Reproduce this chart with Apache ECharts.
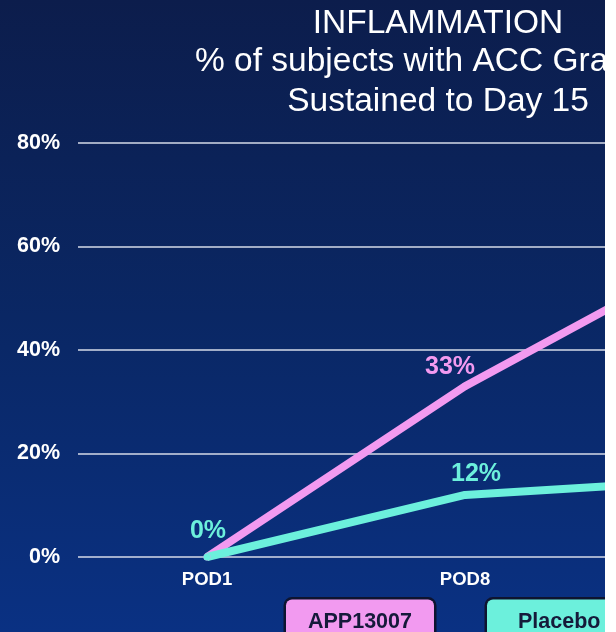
<!DOCTYPE html>
<html>
<head>
<meta charset="utf-8">
<script src="https://cdn.jsdelivr.net/npm/echarts@6/dist/echarts.min.js"></script>
<style>
html, body { margin: 0; padding: 0; background: #ffffff; }
#main { width: 616px; height: 632px; }
</style>
</head>
<body>
<div id="main"></div>
<script>
// data (third point is off the right edge)
var days = ['POD1', 'POD8', 'POD15'];
var app13007 = [0, 33, 60];
var placebo = [0, 12, 15];
var app13007Shown = [false, true, true];
var placeboShown = [true, true, true];
var titleLines = ['INFLAMMATION', '% of subjects with ACC Grade 0', 'Sustained to Day 15'];

var pink = '#f29af0';
var teal = '#6cf0dc';
var font = '"Liberation Sans", Arial';

// x is the day index so the slide can run past the right edge of the window
function makeData(values, shown, offsets, color) {
    var out = [];
    for (var i = 0; i < values.length; i++) {
        out.push({
            value: [i, values[i]],
            label: {
                show: shown[i],
                color: color,
                offset: offsets[i]
            }
        });
    }
    return out;
}

// legend boxes are fixed-width buttons under the axis
function legendBox(name, color, left, padX) {
    return {
        left: left, top: 597, padding: 0, icon: 'none', itemWidth: 0, itemHeight: 0, selectedMode: false,
        data: [{ name: name }],
        textStyle: {
            color: '#151a3a', fontWeight: 'bold', fontSize: 21.5, fontFamily: font,
            backgroundColor: color,
            padding: [9, padX, 15, padX], borderColor: '#0e1430', borderWidth: 2.5, borderRadius: 6
        }
    };
}

var chart = echarts.init(document.getElementById('main'));
var option = {
    backgroundColor: {
        type: 'linear', x: 0, y: 0, x2: 0, y2: 1,
        colorStops: [
            { offset: 0, color: '#0c1d4c' },
            { offset: 0.5, color: '#0a2764' },
            { offset: 1, color: '#0a3183' }
        ]
    },
    animation: false,
    graphic: [
        { type: 'text', x: 438, y: 23.5, style: { text: titleLines[0], fill: '#ffffff', font: '33.5px ' + font, textAlign: 'center', textVerticalAlign: 'middle' } },
        { type: 'text', x: 195, y: 62, style: { text: titleLines[1], fill: '#ffffff', font: '33.5px ' + font, textAlign: 'left', textVerticalAlign: 'middle' } },
        { type: 'text', x: 438, y: 102, style: { text: titleLines[2], fill: '#ffffff', font: '33.5px ' + font, textAlign: 'center', textVerticalAlign: 'middle' } },
        { type: 'rect', z: 100, shape: { x: 605, y: 0, width: 11, height: 632 }, style: { fill: '#ffffff' } }
    ],
    grid: { left: 78, top: 143, right: 0, height: 414 },
    xAxis: {
        type: 'value',
        min: -0.5,
        max: -0.5 + 538 / 258,
        splitLine: { show: false },
        axisLine: { show: false },
        axisTick: { show: false },
        axisLabel: {
            customValues: [0, 1, 2],
            formatter: function (v) { return days[Math.round(v)] || ''; },
            color: '#ffffff', fontWeight: 'bold', fontSize: 18.5, margin: 13, fontFamily: font
        }
    },
    yAxis: {
        type: 'value',
        min: 0,
        max: 80,
        interval: 20,
        axisLine: { show: false },
        axisTick: { show: false },
        axisLabel: { color: '#ffffff', fontWeight: 'bold', fontSize: 21.5, margin: 18, formatter: '{value}%', fontFamily: font },
        splitLine: { lineStyle: { color: '#d6dbe8', width: 1.5 } }
    },
    legend: [
        legendBox('APP13007', pink, 281, 22),
        legendBox('Placebo', teal, 482, 31)
    ],
    series: [
        {
            name: 'APP13007',
            type: 'line',
            clip: true,
            symbol: 'circle',
            symbolSize: 7,
            color: pink,
            lineStyle: { width: 8, color: pink },
            label: { show: true, position: 'top', distance: 6, fontSize: 25, fontWeight: 'bold', formatter: function (p) { return p.value[1] + '%'; }, fontFamily: font },
            data: makeData(app13007, app13007Shown, [[0, 0], [-15, 3], [0, 0]], pink)
        },
        {
            name: 'Placebo',
            type: 'line',
            clip: true,
            symbol: 'circle',
            symbolSize: 7,
            color: teal,
            lineStyle: { width: 8, color: teal },
            label: { show: true, position: 'top', distance: 6, fontSize: 25, fontWeight: 'bold', formatter: function (p) { return p.value[1] + '%'; }, fontFamily: font },
            data: makeData(placebo, placeboShown, [[1, -4], [11, 1], [0, 0]], teal)
        }
    ]
};
chart.setOption(option);
</script>
</body>
</html>
